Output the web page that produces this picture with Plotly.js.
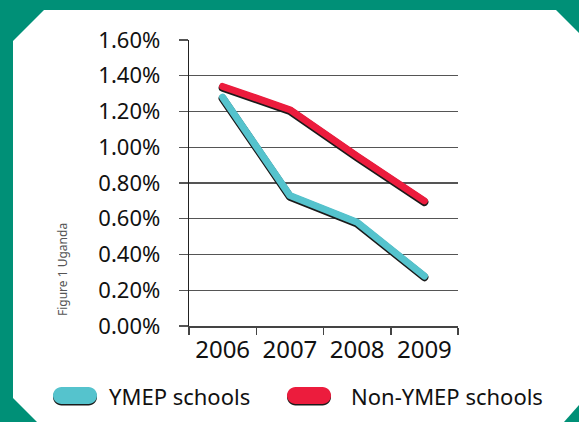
<!DOCTYPE html>
<html>
<head>
<meta charset="utf-8">
<script src="https://cdn.plot.ly/plotly-3.0.1.min.js"></script>
<style>
  html, body { margin: 0; padding: 0; }
  #wrap { position: relative; width: 579px; height: 422px; background: #009077; overflow: hidden; }
  #panel { position: absolute; left: 0; top: 0; width: 579px; height: 422px; background: #ffffff;
    clip-path: polygon(44px 10px, 556px 10px, 579px 33px, 579px 405px, 564px 422px, 37px 422px, 13px 398px, 13px 41px); }
  #chart { position: absolute; left: 0; top: 0; width: 579px; height: 422px; }
  .scatterlayer .js-line { stroke-linecap: round !important; stroke-linejoin: round !important; }
</style>
</head>
<body>
<div id="wrap"><div id="panel"></div><div id="chart"></div></div>
<script>
var years = ['2006', '2007', '2008', '2009'];
var ymep = [0.0128, 0.0073, 0.0058, 0.0028];
var nonYmep = [0.0134, 0.0121, 0.0095, 0.0070];
var seriesNames = ['YMEP schools', 'Non-YMEP schools'];
var seriesColors = ['#55C3CD', '#EC1C3D'];

var W = 579, H = 422;
var L = 189, R = 458, T = 40, B = 326;
function px(x) { return (x - L) / (R - L); }
function py(y) { return (B - y) / (B - T); }
var shift = 1.2 * 0.016 / (B - T);

function pill(x0, y0, x1, y1) {
  var r = (y1 - y0) / 2, k = 0.5523 * r;
  var pts = [
    ['M', x0 + r, y0],
    ['L', x1 - r, y0],
    ['C', x1 - r + k, y0, x1, y0 + r - k, x1, y0 + r],
    ['C', x1, y0 + r + k, x1 - r + k, y1, x1 - r, y1],
    ['L', x0 + r, y1],
    ['C', x0 + r - k, y1, x0, y0 + r + k, x0, y0 + r],
    ['C', x0, y0 + r - k, x0 + r - k, y0, x0 + r, y0]
  ];
  var s = '';
  pts.forEach(function (p) {
    s += p[0];
    for (var i = 1; i < p.length; i += 2) {
      s += ' ' + px(p[i]).toFixed(5) + ',' + py(p[i + 1]).toFixed(5) + ' ';
    }
  });
  return s + 'Z';
}

var font = 'Noto Sans, Open Sans, sans-serif';
var traces = [
  { x: years, y: [null, null, null, null], yaxis: 'y', mode: 'lines', hoverinfo: 'skip', showlegend: false },
  { x: years, y: ymep, yaxis: 'y2', mode: 'lines', line: { color: '#1a1a1a', width: 8 }, hoverinfo: 'skip', showlegend: false },
  { x: years, y: nonYmep, yaxis: 'y2', mode: 'lines', line: { color: '#1a1a1a', width: 8 }, hoverinfo: 'skip', showlegend: false },
  { x: years, y: ymep, yaxis: 'y3', name: seriesNames[0], mode: 'lines', line: { color: seriesColors[0], width: 7 }, showlegend: false },
  { x: years, y: nonYmep, yaxis: 'y3', name: seriesNames[1], mode: 'lines', line: { color: seriesColors[1], width: 7 }, showlegend: false }
];

var legendShapes = [
  { type: 'path', xref: 'paper', yref: 'paper', path: pill(53, 388.5, 97, 405.5), fillcolor: '#1a1a1a', line: { width: 0 } },
  { type: 'path', xref: 'paper', yref: 'paper', path: pill(53, 387, 97, 404), fillcolor: seriesColors[0], line: { width: 0 } },
  { type: 'path', xref: 'paper', yref: 'paper', path: pill(287, 388.5, 331, 405.5), fillcolor: '#1a1a1a', line: { width: 0 } },
  { type: 'path', xref: 'paper', yref: 'paper', path: pill(287, 387, 331, 404), fillcolor: seriesColors[1], line: { width: 0 } }
];

var layout = {
  width: W, height: H,
  margin: { l: L, r: W - R, t: T, b: H - B, pad: 0 },
  paper_bgcolor: 'rgba(0,0,0,0)',
  plot_bgcolor: 'rgba(0,0,0,0)',
  showlegend: false,
  font: { family: font, color: '#111' },
  xaxis: {
    type: 'category', categoryorder: 'array', categoryarray: years,
    range: [-0.5, 3.5], showgrid: false, showline: true, linecolor: '#444', linewidth: 1.5,
    ticks: 'outside', tickson: 'boundaries', ticklen: 7, tickcolor: '#444', tickwidth: 1.5,
    tickfont: { size: 24, family: font, color: '#111' }, ticklabelstandoff: 2, zeroline: false
  },
  yaxis: {
    range: [0, 0.016], dtick: 0.002, tick0: 0, tickformat: '.2%', autorange: false,
    showgrid: true, gridcolor: '#555', gridwidth: 1.3, showline: true, linecolor: '#222', linewidth: 1.3,
    ticks: 'outside', ticklen: 9, tickcolor: '#555', tickwidth: 1.3,
    tickfont: { size: 22, family: font, color: '#111' }, ticklabelstandoff: 14, zeroline: false
  },
  yaxis2: { overlaying: 'y', range: [shift, 0.016 + shift], autorange: false, visible: false, showgrid: false },
  yaxis3: { overlaying: 'y', range: [0, 0.016], autorange: false, visible: false, showgrid: false },
  shapes: legendShapes,
  annotations: [
    { xref: 'paper', yref: 'paper', x: px(107), y: py(395.5), xanchor: 'left', yanchor: 'middle', showarrow: false,
      text: seriesNames[0], font: { size: 22, family: font, color: '#111' } },
    { xref: 'paper', yref: 'paper', x: px(349), y: py(395.5), xanchor: 'left', yanchor: 'middle', showarrow: false,
      text: seriesNames[1], font: { size: 22, family: font, color: '#111' } },
    { xref: 'paper', yref: 'paper', x: px(62), y: py(270), xanchor: 'center', yanchor: 'middle', showarrow: false,
      textangle: -90, text: 'Figure 1 Uganda', font: { size: 12, family: font, color: '#555' } }
  ]
};

Plotly.newPlot('chart', traces, layout, { staticPlot: true, displayModeBar: false });
</script>
</body>
</html>
